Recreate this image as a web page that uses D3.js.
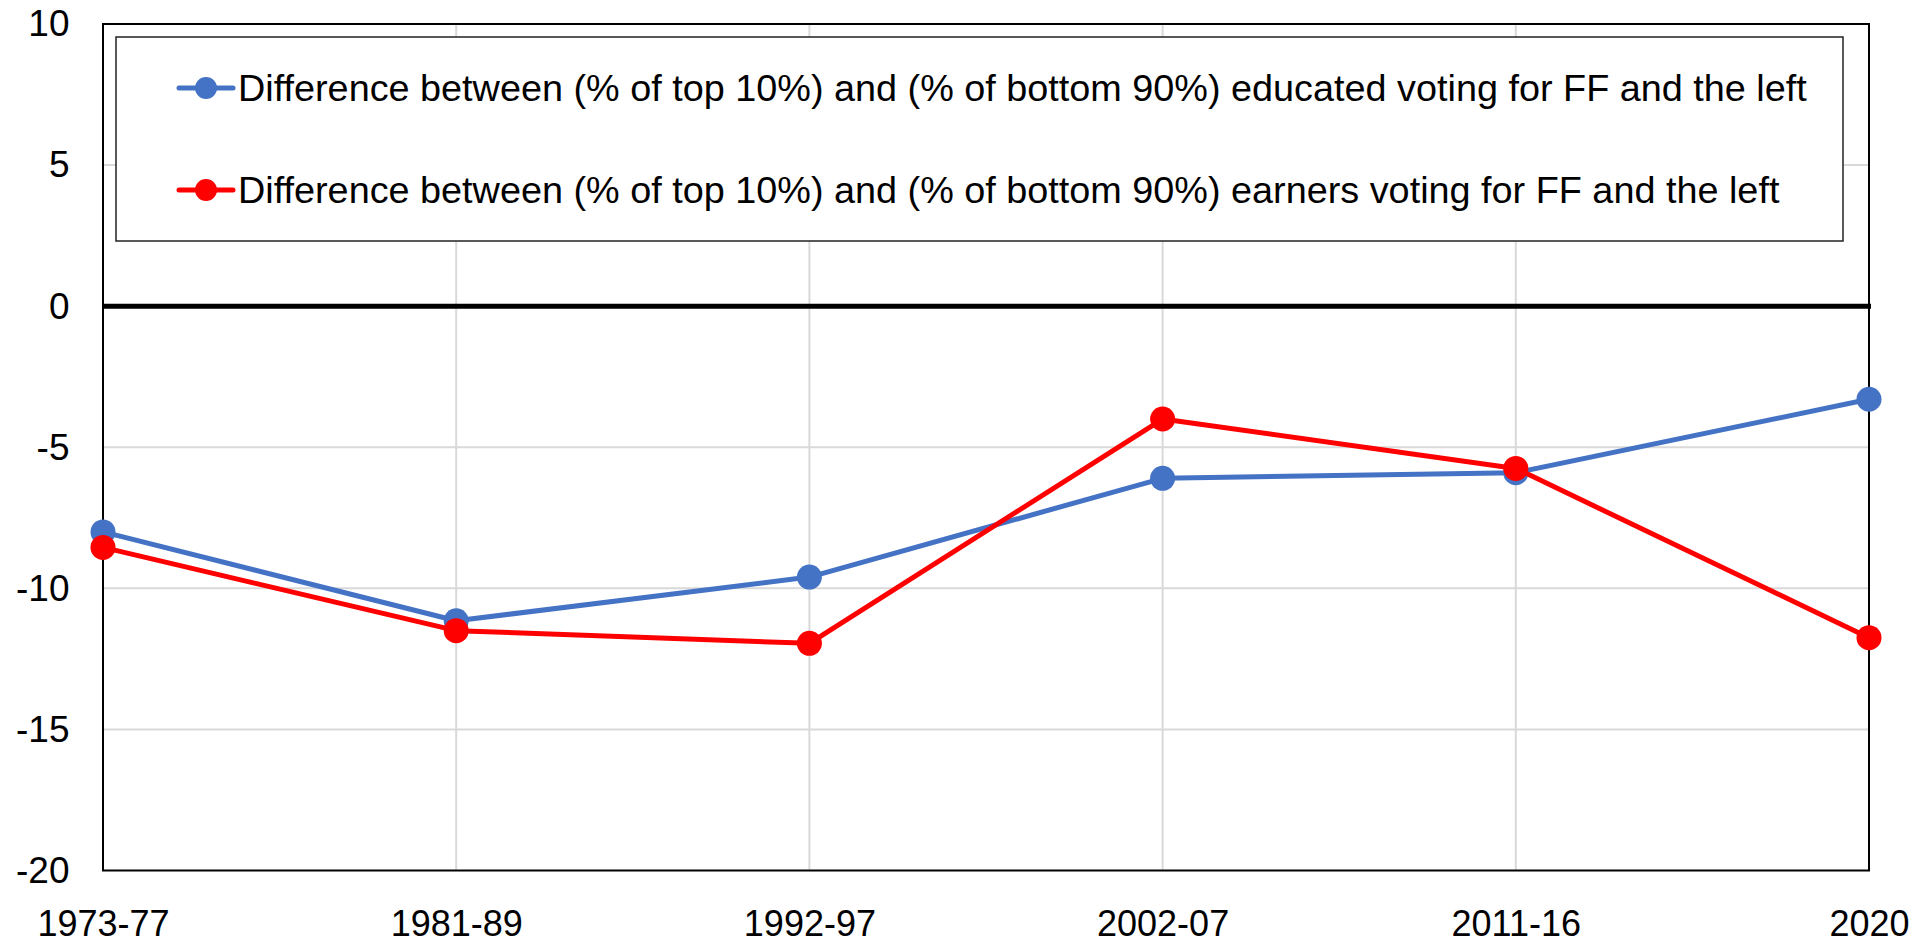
<!DOCTYPE html>
<html>
<head>
<meta charset="utf-8">
<script src="https://cdn.jsdelivr.net/npm/d3@7"></script>
<style>
  html, body { margin: 0; padding: 0; background: #fff; }
  text { font-family: "Liberation Sans", Arial, sans-serif; fill: #000; }
</style>
</head>
<body>
<div id="container"></div>
<script>
let w = 1930;
let h = 943;

// data
let periods = ["1973-77", "1981-89", "1992-97", "2002-07", "2011-16", "2020"];
let educated = [-8.0, -11.15, -9.6, -6.1, -5.9, -3.3];
let earners = [-8.55, -11.5, -11.95, -4.0, -5.75, -11.75];
let yTicks = [10, 5, 0, -5, -10, -15, -20];
let seriesNames = [
  "Difference between (% of top 10%) and (% of bottom 90%) educated voting for FF and the left",
  "Difference between (% of top 10%) and (% of bottom 90%) earners voting for FF and the left"
];
let seriesColors = ["#4472c4", "#ff0000"];

let plotL = 103, plotR = 1869, plotT = 24, plotB = 870.5;

let viz = d3.select("#container").append("svg")
    .attr("width", w)
    .attr("height", h)
    .style("display", "block");

let x = d3.scalePoint().domain(periods).range([plotL, plotR]);
let y = d3.scaleLinear().domain([-20, 10]).range([plotB, plotT]);

// gridlines
viz.append("g").selectAll("line").data(yTicks.filter(d => d != 0 && d != 10 && d != -20)).enter()
  .append("line")
    .attr("x1", plotL).attr("x2", plotR)
    .attr("y1", d => y(d)).attr("y2", d => y(d))
    .attr("stroke", "#d9d9d9").attr("stroke-width", 2);
viz.append("g").selectAll("line").data(periods.slice(1, -1)).enter()
  .append("line")
    .attr("x1", d => x(d)).attr("x2", d => x(d))
    .attr("y1", plotT).attr("y2", plotB)
    .attr("stroke", "#d9d9d9").attr("stroke-width", 2);

// plot frame
viz.append("rect")
  .attr("x", plotL).attr("y", plotT)
  .attr("width", plotR - plotL).attr("height", plotB - plotT)
  .attr("fill", "none").attr("stroke", "#000").attr("stroke-width", 2);

// zero line
viz.append("line")
  .attr("x1", plotL).attr("x2", plotR + 2)
  .attr("y1", y(0)).attr("y2", y(0))
  .attr("stroke", "#000").attr("stroke-width", 5);

// y labels (plain hyphen for negatives, as in the original)
let yAxis = d3.axisLeft(y).tickValues(yTicks).tickSize(0).tickPadding(33.5).tickFormat(d => String(d));
let gy = viz.append("g").attr("transform", `translate(${plotL},0)`).call(yAxis);
gy.select(".domain").remove();
gy.selectAll("text").style("font-size", "37px").attr("fill", "#000")
  .style("font-family", "'Liberation Sans', Arial, sans-serif");

// x labels
let xAxis = d3.axisBottom(x).tickSize(0).tickPadding(39.5);
let gx = viz.append("g").attr("transform", `translate(0,${plotB})`).call(xAxis);
gx.select(".domain").remove();
gx.selectAll("text").style("font-size", "36px").attr("fill", "#000")
  .style("font-family", "'Liberation Sans', Arial, sans-serif");

// lines
let lineMaker = d3.line().x((d, i) => x(periods[i])).y(d => y(d));
let series = [educated, earners];
series.forEach((vals, k) => {
  viz.append("path")
    .datum(vals)
    .attr("d", lineMaker)
    .attr("fill", "none")
    .attr("stroke", seriesColors[k])
    .attr("stroke-width", 5)
    .attr("stroke-linejoin", "round");
  viz.append("g").selectAll("circle").data(vals).enter()
    .append("circle")
      .attr("cx", (d, i) => x(periods[i]))
      .attr("cy", d => y(d))
      .attr("r", 12.5)
      .attr("fill", seriesColors[k]);
});

// legend
let legend = viz.append("g");
legend.append("rect")
  .attr("x", 116).attr("y", 37)
  .attr("width", 1843 - 116).attr("height", 241 - 37)
  .attr("fill", "#fff").attr("stroke", "#222").attr("stroke-width", 1.5);
let legendRows = [88, 190];
seriesNames.forEach((name, k) => {
  let g = legend.append("g").attr("transform", `translate(0,${legendRows[k]})`);
  g.append("line").attr("x1", 179).attr("x2", 233).attr("y1", 0).attr("y2", 0)
    .attr("stroke", seriesColors[k]).attr("stroke-width", 5).attr("stroke-linecap", "round");
  g.append("circle").attr("cx", 206).attr("cy", 0).attr("r", 11).attr("fill", seriesColors[k]);
  g.append("text").attr("x", 238).attr("y", 0).attr("dy", "0.35em")
    .style("font-size", "37.8px").text(name);
});
</script>
</body>
</html>
